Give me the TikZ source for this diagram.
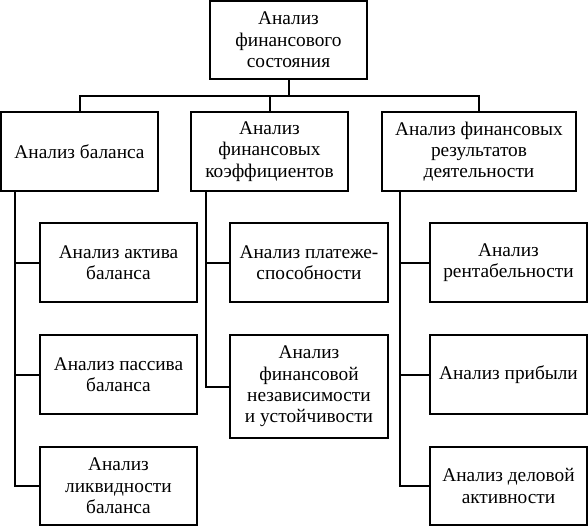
\documentclass[tikz,border=0pt]{standalone}
\usepackage{fontspec}
\setmainfont{Liberation Serif}
\begin{document}
\begin{tikzpicture}[x=0.75pt,y=-0.75pt,
  box/.style={draw,line width=1.5pt,rectangle,inner sep=0pt,align=center,
    font=\fontsize{14.5}{16}\selectfont},
  conn/.style={line width=1.5pt}]
\useasboundingbox (0,0) rectangle (588,527);
% top
\node[box,minimum width=157*0.75pt,minimum height=78*0.75pt] (top) at (288.5,40) {Анализ\\финансового\\состояния};
% level 2
\node[box,minimum width=157*0.75pt,minimum height=79*0.75pt] (A) at (79.5,151.5) {Анализ баланса};
\node[box,minimum width=157*0.75pt,minimum height=79*0.75pt] (B) at (269.5,151.5) {Анализ\\финансовых\\коэффициентов};
\node[box,minimum width=194*0.75pt,minimum height=79*0.75pt] (C) at (479,151.5) {Анализ финансовых\\результатов\\деятельности};
% children A
\node[box,minimum width=157*0.75pt,minimum height=79*0.75pt] (A1) at (118.5,262.5) {Анализ актива\\баланса};
\node[box,minimum width=157*0.75pt,minimum height=79*0.75pt] (A2) at (118.5,374.5) {Анализ пассива\\баланса};
\node[box,minimum width=157*0.75pt,minimum height=78*0.75pt] (A3) at (118.5,486) {Анализ\\ликвидности\\баланса};
% children B
\node[box,minimum width=158*0.75pt,minimum height=79*0.75pt] (B1) at (309,262.5) {Анализ платеже-\\способности};
\node[box,minimum width=158*0.75pt,minimum height=103*0.75pt] (B2) at (309,386.5) {Анализ\\финансовой\\независимости\\и устойчивости};
% children C
\node[box,minimum width=157*0.75pt,minimum height=79*0.75pt] (C1) at (508.5,262.5) {Анализ\\рентабельности};
\node[box,minimum width=157*0.75pt,minimum height=79*0.75pt] (C2) at (508.5,374.5) {Анализ прибыли};
\node[box,minimum width=157*0.75pt,minimum height=78*0.75pt] (C3) at (508.5,486) {Анализ деловой\\активности};
% connectors top
\coordinate (bus) at (288.5,96);
\draw[conn] (top.south) -- (bus);
\draw[conn] (bus) -| (A.north);
\draw[conn] (bus) -| (B.north);
\draw[conn] (bus) -| (C.north);
% connectors A
\draw[conn] ([xshift=15*0.75pt]A.south west) |- (A1.west);
\draw[conn] ([xshift=15*0.75pt]A.south west) |- (A2.west);
\draw[conn] ([xshift=15*0.75pt]A.south west) |- (A3.west);
% connectors B
\draw[conn] ([xshift=16*0.75pt]B.south west) |- (B1.west);
\draw[conn] ([xshift=16*0.75pt]B.south west) |- (B2.west);
% connectors C
\draw[conn] ([xshift=19*0.75pt]C.south west) |- (C1.west);
\draw[conn] ([xshift=19*0.75pt]C.south west) |- (C2.west);
\draw[conn] ([xshift=19*0.75pt]C.south west) |- (C3.west);
\end{tikzpicture}
\end{document}
